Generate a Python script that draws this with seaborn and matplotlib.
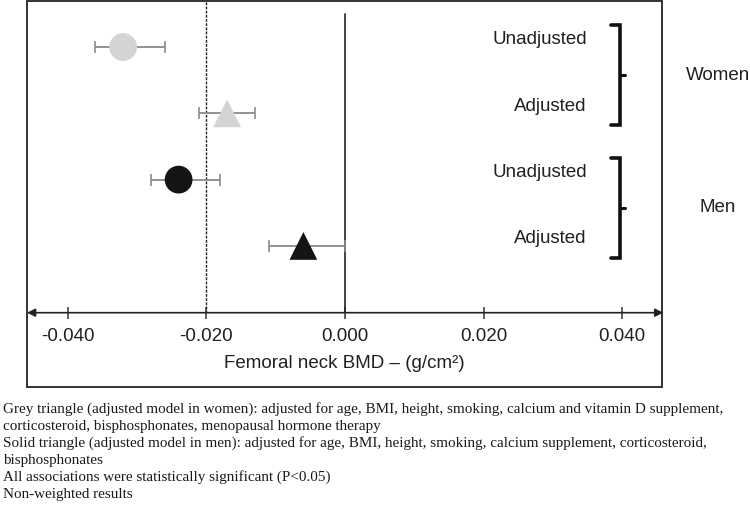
import matplotlib
matplotlib.use("Agg")
import matplotlib.pyplot as plt
from matplotlib.patches import Rectangle
import seaborn as sns
import pandas as pd

# data
row_labels = ["Unadjusted", "Adjusted", "Unadjusted", "Adjusted"]
sex = ["Women", "Women", "Men", "Men"]
model = ["Unadjusted", "Adjusted", "Unadjusted", "Adjusted"]
estimate = [-0.032, -0.017, -0.024, -0.006]
ci_low = [-0.036, -0.021, -0.028, -0.011]
ci_high = [-0.026, -0.013, -0.018, 0.000]
ref_line = -0.020
xticks = [-0.040, -0.020, 0.000, 0.020, 0.040]
groups = ["Women", "Men"]
footnotes = [
    "Grey triangle (adjusted model in women): adjusted for age, BMI, height, smoking, calcium and vitamin D supplement,",
    "corticosteroid, bisphosphonates, menopausal hormone therapy",
    "Solid triangle (adjusted model in men): adjusted for age, BMI, height, smoking, calcium supplement, corticosteroid,",
    "bisphosphonates",
    "All associations were statistically significant (P<0.05)",
    "Non-weighted results",
]

df = pd.DataFrame({
    "row": range(len(estimate)),
    "label": row_labels,
    "sex": sex,
    "model": model,
    "estimate": estimate,
    "low": ci_low,
    "high": ci_high,
})

sns.set_theme(style="white")
plt.rcParams["font.family"] = ["Liberation Sans", "DejaVu Sans"]
TXT = "#231f20"

W, H = 750, 505
fig = plt.figure(figsize=(W / 100, H / 100), dpi=100)

# axes placed in pixel terms
x0, x1, y_top, y_axis = 27, 662, 1, 312.7
ax = fig.add_axes([x0 / W, 1 - y_axis / H, (x1 - x0) / W, (y_axis - y_top) / H])

# frame around the chart
fig.patches.append(Rectangle((27 / W, 1 - 387 / H), (662 - 27) / W, (387 - 1) / H,
                             transform=fig.transFigure, fill=False,
                             edgecolor="#222222", linewidth=1.3))

# error bars
for _, r in df.iterrows():
    ax.errorbar(r["estimate"], r["row"],
                xerr=[[r["estimate"] - r["low"]], [r["high"] - r["estimate"]]],
                fmt="none", ecolor="#8a8a8a", elinewidth=1.3, capsize=4,
                capthick=1.2, zorder=2)

sns.scatterplot(data=df, x="estimate", y="row", hue="sex", style="model",
                palette={"Women": "#d4d4d4", "Men": "#141414"},
                markers={"Unadjusted": "o", "Adjusted": "^"},
                s=400, linewidth=0, legend=False, zorder=3, ax=ax)

ax.set_xlim(-0.04587, 0.04573)
ax.set_ylim(4.007, -0.694)

# reference lines
ax.axvline(ref_line, color="#222222", linestyle=(0, (2, 1)), linewidth=1.0, zorder=1)
ax.plot([0, 0], [-0.5, 4.007], color="#222222", linewidth=1.2, zorder=1)

# row labels
for i, lab in enumerate(row_labels):
    ax.text(0.0349, i - 0.11, lab, ha="right", va="center", fontsize=13.5, color=TXT)

# brackets and group labels
for g, name in enumerate(groups):
    top = 2 * g - 0.33
    bot = 2 * g + 1 + 0.18
    mid = (top + bot) / 2
    ax.plot([0.0384, 0.0397, 0.0397, 0.0384], [top, top, bot, bot],
            color="#111111", linewidth=2.6, solid_joinstyle="miter", clip_on=False)
    ax.plot([0.0397, 0.0404], [mid, mid], color="#111111", linewidth=2.2, clip_on=False)
    ax.text(0.0538, mid, name, ha="center", va="center", fontsize=13.5,
            color=TXT, clip_on=False)

# x axis with arrows on both ends
for s in ax.spines.values():
    s.set_visible(False)
ax.annotate("", xy=(0, 0), xytext=(1.002, 0), xycoords="axes fraction",
            arrowprops=dict(arrowstyle="<|-|>", color="#222222", lw=1.2,
                            mutation_scale=12, shrinkA=0, shrinkB=0))
ax.set_xticks(xticks)
ax.set_xticklabels([f"{t:.3f}" for t in xticks])
ax.tick_params(axis="x", direction="inout", length=8, width=1.1, color="#333333",
               labelsize=13.5, labelcolor=TXT, pad=7, bottom=True)
ax.set_yticks([])
ax.set_ylabel("")
ax.set_xlabel("Femoral neck BMD – (g/cm²)", fontsize=13.5, color=TXT, labelpad=7)

# footnotes
for i, line in enumerate(footnotes):
    fig.text(3 / W, 1 - (409 + 17.1 * i) / H, line, ha="left", va="center",
             fontsize=10.9, color="#1a1a1a", family=["Liberation Serif", "DejaVu Serif"])

fig.savefig("out.png", dpi=100)
